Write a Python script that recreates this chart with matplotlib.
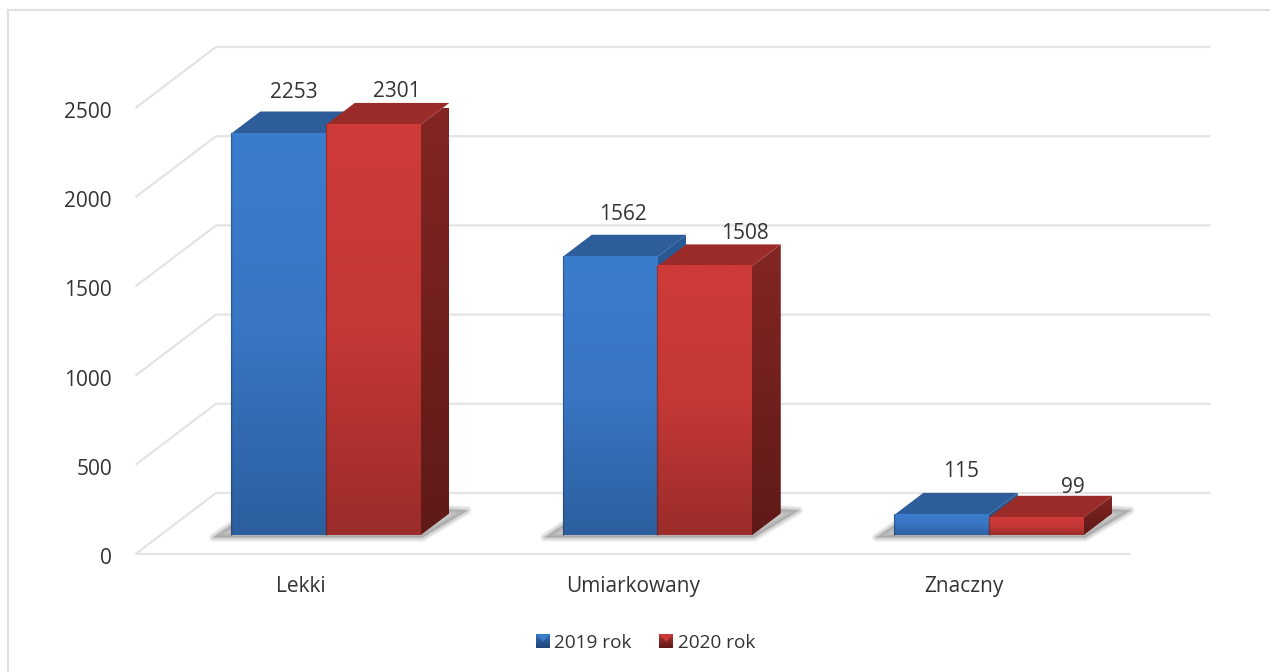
import numpy as np
import matplotlib
matplotlib.use("Agg")
import matplotlib.pyplot as plt
from matplotlib.patches import Polygon
from matplotlib.lines import Line2D
from matplotlib.transforms import ScaledTranslation
from matplotlib.colors import LinearSegmentedColormap

plt.rcParams['font.family'] = ['Open Sans', 'DejaVu Sans']

categories = ['Lekki', 'Umiarkowany', 'Znaczny']
series_names = ['2019 rok', '2020 rok']
values_2019 = [2253, 1562, 115]
values_2020 = [2301, 1508, 99]
y_ticks = [0, 500, 1000, 1500, 2000, 2500]

# pixels of the picture, the fake 3d is worked out from these
W, H = 1270, 672
LEFT, RIGHT, BOTTOM, TOP = 135.5, 1130, 554, 108
DEPTH_X, DEPTH_Y = 80.5, 61
BAR_W = 94.5 / 331.5
BAR_D0, BAR_D1 = 0.305, 0.665

PX_X = (RIGHT - LEFT) / 3.0
PX_Y = (BOTTOM - TOP) / 2500.0

GRID = '#e4e4e4'
TEXT = '#333333'

FRONT = [['#3b7dcd', '#3875c2', '#2d5f9f'], ['#cf3b38', '#c43836', '#9b2c2a']]
SIDE = [['#2a5a96', '#1f4678'], ['#832624', '#5f1a18']]
TOPS = ['#2d5e9b', '#9a2b29']

# 每组标签相对柱子的偏移 (px)
LABEL_OFF = [[(15, 41), (24, 33)], [(13, 42), (40, 33)], [(20, 43), (37, 30)]]


def proj(x, y, d):
    # oblique projection, d is depth 0..1
    return x + d * DEPTH_X / PX_X, y + d * DEPTH_Y / PX_Y


def side_face(ax, x, v, colors, z):
    p = [proj(x, 0, BAR_D0), proj(x, v, BAR_D0), proj(x, v, BAR_D1), proj(x, 0, BAR_D1)]
    xs = [q[0] for q in p]
    ys = [q[1] for q in p]
    cmap = LinearSegmentedColormap.from_list('s', colors)
    g = np.linspace(0, 1, 128).reshape(-1, 1)
    im = ax.imshow(g, extent=(min(xs), max(xs), min(ys), max(ys)), origin='upper',
                   aspect='auto', cmap=cmap, zorder=z, interpolation='bilinear')
    poly = Polygon(p, closed=True, transform=ax.transData, facecolor='none', edgecolor='none')
    ax.add_patch(poly)
    im.set_clip_path(poly)


def shadow(ax, x0, x1):
    # soft gray shadow on the floor, built from stacked wide edges
    a0 = proj(x0, 0, BAR_D0)
    a1 = proj(x1, 0, BAR_D0)
    b1 = proj(x1, 0, BAR_D1)
    p = [(a0[0] - 18 / PX_X, a0[1] - 2 / PX_Y), (a1[0] + 2 / PX_X, a1[1] - 2 / PX_Y),
         (b1[0] + 18 / PX_X, b1[1] + 3 / PX_Y), (b1[0], b1[1] + 4 / PX_Y),
         (a0[0], a0[1] + 10 / PX_Y)]
    for lw in [6.5, 5.5, 4.5, 3.5, 2.5, 1.5, 0.8]:
        ax.add_patch(Polygon(p, closed=True, facecolor='#808080', edgecolor='#808080',
                             lw=lw, alpha=0.07, zorder=2, joinstyle='round', clip_on=False))


fig = plt.figure(figsize=(W / 100, H / 100), dpi=100)
# only the top and left edges of the frame show
fig.add_artist(Line2D([7.5 / W, 7.5 / W, 1], [0, 1 - 10 / H, 1 - 10 / H], transform=fig.transFigure,
                      color='#e0e0e0', lw=1.5, solid_joinstyle='miter'))
ax = fig.add_axes([LEFT / W, 1 - BOTTOM / H, (RIGHT - LEFT) / W, (BOTTOM - TOP) / H])
ax.patch.set_alpha(0)
XMIN, XMAX = -0.5, 2.5

# walls
for t in y_ticks:
    p0 = proj(XMIN, t, 0)
    p1 = proj(XMIN, t, 1)
    p2 = proj(XMAX, t, 1)
    ax.plot([p0[0], p1[0], p2[0]], [p0[1], p1[1], p2[1]], color=GRID, lw=1.6, zorder=1,
            clip_on=False, solid_joinstyle='miter', solid_capstyle='butt')
ax.plot([XMIN, XMAX], [0, 0], color=GRID, lw=1.6, zorder=1, clip_on=False, solid_capstyle='butt')

# bars
for i, c in enumerate(categories):
    x0 = i - BAR_W
    shadow(ax, x0, i + BAR_W)
    for s, v in enumerate([values_2019[i], values_2020[i]]):
        xl = x0 + s * BAR_W
        xr = xl + BAR_W
        xl_d, xr_d = proj(xl, 0, BAR_D0)[0], proj(xr, 0, BAR_D0)[0]
        z = 3 + s * 2
        side_face(ax, xr, v, SIDE[s], z)
        ax.add_patch(Polygon([proj(xl, v, BAR_D0), proj(xr, v, BAR_D0), proj(xr, v, BAR_D1),
                              proj(xl, v, BAR_D1)], closed=True, facecolor=TOPS[s],
                             edgecolor='none', zorder=z, clip_on=False))
        cmap = LinearSegmentedColormap.from_list('g', FRONT[s])
        y0, y1 = proj(xl, 0, BAR_D0)[1], proj(xl, v, BAR_D0)[1]
        ax.imshow(np.linspace(0, 1, 128).reshape(-1, 1), extent=(xl_d, xr_d, y0, y1), origin='upper',
                  aspect='auto', cmap=cmap, zorder=z + 1, clip_on=False, interpolation='bilinear')
        ax.plot([xl_d, xl_d], [y0, y1], color='#1a1a1a', lw=1, alpha=0.3, zorder=z + 1, clip_on=False)
        dx, dy = LABEL_OFF[i][s]
        ax.annotate(str(v), (((xl_d + xr_d) / 2), y1), xytext=(dx * 0.72, dy * 0.72),
                    textcoords='offset points', ha='center', va='center',
                    fontsize=15, color=TEXT, zorder=8, annotation_clip=False)

ax.set_xlim(XMIN, XMAX)
ax.set_ylim(0, 2500)
ax.set_xticks(range(3))
ax.set_xticklabels(categories, fontsize=15, color=TEXT)
ax.set_yticks(y_ticks)
ax.set_yticklabels([str(t) for t in y_ticks], fontsize=15, color=TEXT)
ax.tick_params(axis='x', length=0, pad=16)
ax.tick_params(axis='y', length=0, pad=17)
for lab in ax.get_yticklabels():
    lab.set_transform(lab.get_transform() + ScaledTranslation(0, -2 / 100, fig.dpi_scale_trans))
for sp in ax.spines.values():
    sp.set_visible(False)

# legend, small squares with a lighter wedge from the top
leg_x = [536, 659]
for k, name in enumerate(series_names):
    lx = leg_x[k]
    la = fig.add_axes([lx / W, 1 - 648 / H, 14 / W, 14 / H])
    la.imshow(np.linspace(0, 1, 32).reshape(-1, 1), cmap=LinearSegmentedColormap.from_list(
        'l', [FRONT[k][1], SIDE[k][0], SIDE[k][1]]), aspect='auto', extent=(0, 1, 0, 1))
    la.add_patch(Polygon([(0.05, 0.98), (0.95, 0.98), (0.5, 0.45)], closed=True,
                         facecolor=FRONT[k][0], edgecolor='none'))
    la.axis('off')
    fig.text((lx + 18.5) / W, 1 - 643 / H, name, fontsize=13.7, color=TEXT, ha='left', va='center')

fig.savefig('out.png', dpi=100)
